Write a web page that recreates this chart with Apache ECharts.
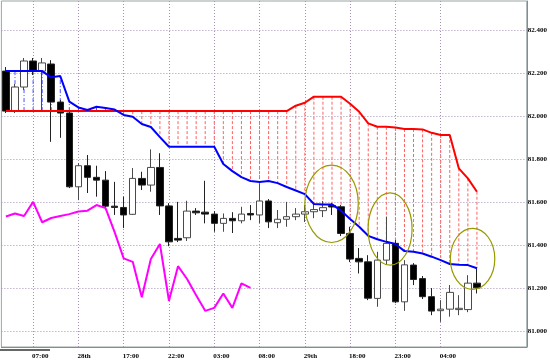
<!DOCTYPE html>
<html><head><meta charset="utf-8">
<script src="https://cdn.jsdelivr.net/npm/echarts@6/dist/echarts.min.js"></script>
<style>html,body{margin:0;padding:0;background:#fff}#c{width:550px;height:362px}</style>
</head><body><div id="c"></div>
<script>
// ---- data ----
const tickLabels = ["07:00","28th","17:00","22:00","03:00","08:00","29th","18:00","23:00","04:00"];
const openP  = [82.209,82.023,82.135,82.256,82.209,82.242,82.065,82.014,81.671,81.769,81.715,81.702,81.581,81.575,81.543,81.710,81.679,81.761,81.582,81.431,81.434,81.558,81.553,81.544,81.501,81.524,81.513,81.547,81.540,81.605,81.504,81.520,81.532,81.544,81.555,81.560,81.584,81.578,81.454,81.338,81.322,81.152,81.330,81.408,81.136,81.307,81.244,81.160,81.095,81.102,81.100,81.100,81.223];
const closeP = [82.023,82.135,82.256,82.209,82.247,82.065,82.014,81.671,81.769,81.715,81.702,81.581,81.575,81.540,81.710,81.679,81.761,81.582,81.415,81.423,81.558,81.550,81.544,81.501,81.524,81.513,81.544,81.540,81.605,81.508,81.520,81.532,81.544,81.555,81.565,81.574,81.577,81.454,81.335,81.322,81.153,81.330,81.408,81.136,81.308,81.240,81.160,81.093,81.102,81.180,81.106,81.223,81.201];
const lowP   = [82.014,82.014,82.121,82.191,82.023,81.880,81.899,81.665,81.609,81.642,81.625,81.563,81.540,81.479,81.540,81.656,81.648,81.540,81.395,81.414,81.419,81.540,81.501,81.462,81.462,81.456,81.501,81.516,81.502,81.479,81.479,81.485,81.516,81.507,81.525,81.530,81.540,81.442,81.321,81.268,81.144,81.113,81.307,81.130,81.094,81.214,81.149,81.074,81.043,81.067,81.074,81.088,81.175];
const highP  = [82.228,82.149,82.270,82.270,82.270,82.260,82.074,82.023,81.781,81.819,81.769,81.744,81.694,81.625,81.758,81.741,81.845,81.827,81.595,81.601,81.606,81.572,81.699,81.558,81.547,81.553,81.578,81.586,81.688,81.614,81.563,81.601,81.572,81.586,81.595,81.605,81.595,81.586,81.485,81.386,81.353,81.369,81.532,81.423,81.330,81.316,81.256,81.200,81.144,81.214,81.167,81.260,81.293];
const spanBlue = [82.209,82.209,82.209,82.209,82.209,82.180,82.186,82.067,82.040,82.028,82.043,82.037,82.030,82.005,81.997,81.963,81.949,81.902,81.857,81.857,81.857,81.857,81.857,81.857,81.777,81.744,81.716,81.698,81.693,81.698,81.688,81.670,81.654,81.637,81.591,81.589,81.589,81.560,81.521,81.485,81.443,81.427,81.415,81.405,81.372,81.369,81.361,81.346,81.330,81.312,81.308,81.307,81.292];
const spanRed = [82.023,82.023,82.023,82.023,82.023,82.023,82.023,82.023,82.023,82.023,82.023,82.023,82.023,82.023,82.023,82.023,82.023,82.023,82.023,82.023,82.023,82.023,82.023,82.023,82.023,82.023,82.023,82.023,82.023,82.023,82.023,82.023,82.048,82.062,82.090,82.090,82.090,82.090,82.057,82.020,81.966,81.950,81.950,81.947,81.940,81.940,81.938,81.922,81.912,81.912,81.757,81.710,81.648];
const chikou = [81.533,81.547,81.535,81.601,81.506,81.526,81.535,81.544,81.556,81.560,81.586,81.572,81.460,81.338,81.322,81.157,81.335,81.405,81.141,81.302,81.242,81.167,81.094,81.108,81.175,81.108,81.222,81.201];
const priceTicks = [81.0,81.2,81.4,81.6,81.8,82.0,82.2,82.4];
const lastPrice = 81.201;
// highlighted zones: centre bar position, centre price, half-width (bars), half-height (price)
const zoneX  = [35.95, 42.41, 51.52];
const zoneY  = [81.592, 81.475, 81.336];
const zoneRX = [2.95, 2.43, 2.45];
const zoneRY = [0.180, 0.168, 0.142];

// ---- layout ----
const SLOTS = 58, FIRST_TICK = 3, TICK_STEP = 5;
const categories = [];
for (let i = 0; i < SLOTS; i++) {
  const k = (i - FIRST_TICK) / TICK_STEP;
  categories.push(Number.isInteger(k) && k >= 0 && k < tickLabels.length ? tickLabels[k] : '');
}
const tickIdx = [];
categories.forEach((c, i) => { if (c !== '') tickIdx.push(i); });

const FONT = 'Liberation Serif';
const gridColor = '#a493b6';
const chart = echarts.init(document.getElementById('c'), null, {renderer: 'canvas'});

const candles = openP.map((o, i) => [o, closeP[i], lowP[i], highP[i]]);
const cloud = spanRed.map((r, i) => [i, r, spanBlue[i]]);
const zones = zoneX.map((x, i) => [Math.floor(x), zoneY[i], x, zoneRX[i], zoneRY[i]]);

chart.setOption({
  animation: false,
  backgroundColor: '#fff',
  grid: {left: 1.4, right: 23, top: 1, bottom: 15, show: true, borderColor: '#9aa6a6', borderWidth: 1},
  xAxis: {
    type: 'category', data: categories, boundaryGap: true,
    axisLine: {show: true, lineStyle: {color: '#7f8f8f'}},
    axisTick: {show: false},
    splitLine: {show: false},
    axisLabel: {interval: (i, v) => v !== '', align: 'left', margin: 6, fontSize: 7, fontWeight: 'bold', fontFamily: FONT, color: '#000', padding: [0, 0, 0, -1]}
  },
  yAxis: {
    type: 'value', position: 'right', min: 80.926, max: 82.535, scale: true,
    axisLine: {show: true, lineStyle: {color: '#7f8f8f'}},
    axisTick: {show: false, customValues: priceTicks},
    splitLine: {show: false},
    axisLabel: {customValues: priceTicks, formatter: v => v.toFixed(3), margin: 1, fontSize: 7, fontWeight: 'bold', fontFamily: FONT, color: '#000'}
  },
  graphic: [
    {type: 'rect', shape: {x: 0, y: 349, width: 50, height: 2}, style: {fill: '#666'}, silent: true}
  ],
  series: [
    { // grid lines
      type: 'line', data: [], z: 0, silent: true,
      markLine: {
        silent: true, symbol: 'none', z: 0, animation: false,
        label: {show: false},
        lineStyle: {color: gridColor, type: [1, 2], width: 1},
        data: tickIdx.map(i => ({xAxis: i})).concat(priceTicks.map(p => ({yAxis: p})))
      }
    },
    { // cloud verticals
      type: 'custom', z: 1, silent: true,
      data: cloud,
      encode: {x: 0, y: [1, 2]},
      renderItem: (params, api) => {
        const i = api.value(0), a = api.value(1), b = api.value(2);
        const p1 = api.coord([i, a]), p2 = api.coord([i, b]);
        const blueUp = b > a;
        return {type: 'line', shape: {x1: p1[0], y1: p1[1], x2: p2[0], y2: p2[1]},
          style: {stroke: blueUp ? '#4455ff' : '#ff6060', lineWidth: 1, lineDash: blueUp ? [4, 2, 1, 2] : [3, 2]}};
      }
    },
    {
      type: 'candlestick', z: 2, data: candles, barWidth: 7,
      itemStyle: {color: '#fff', color0: '#000', borderColor: '#4a4a4a', borderColor0: '#222', borderWidth: 1},
      markLine: {
        silent: true, symbol: 'none', z: 10, animation: false,
        lineStyle: {opacity: 0},
        label: {show: true, position: 'end', distance: 1, formatter: () => lastPrice.toFixed(3), backgroundColor: '#000', color: '#fff', fontSize: 7, fontWeight: 'bold', fontFamily: FONT, padding: [1, 1, 0, 1]},
        data: [{yAxis: lastPrice}]
      }
    },
    {type: 'line', z: 3, data: spanRed, showSymbol: false, lineStyle: {color: '#ff0000', width: 2}},
    {type: 'line', z: 3, data: spanBlue, showSymbol: false, lineStyle: {color: '#0000ff', width: 2}},
    {type: 'line', z: 3, data: chikou, showSymbol: false, lineStyle: {color: '#ff00ff', width: 2}},
    {
      type: 'custom', z: 4, silent: true,
      data: zones,
      dimensions: ['i', 'y', 'cx', 'rx', 'ry'],
      encode: {x: 'i', y: 'y'},
      renderItem: (params, api) => {
        const base = api.value('i'), y = api.value('y'), cx = api.value('cx');
        const bw = api.size([1, 0])[0];
        const c = api.coord([base, y]);
        const ryPx = api.size([0, api.value('ry') * 2], [base, y])[1] / 2;
        return {type: 'ellipse', shape: {cx: c[0] + (cx - base) * bw, cy: c[1], rx: api.value('rx') * bw, ry: ryPx},
          style: {fill: null, stroke: '#999900', lineWidth: 1.2}};
      }
    }
  ]
});
</script>
</body></html>
